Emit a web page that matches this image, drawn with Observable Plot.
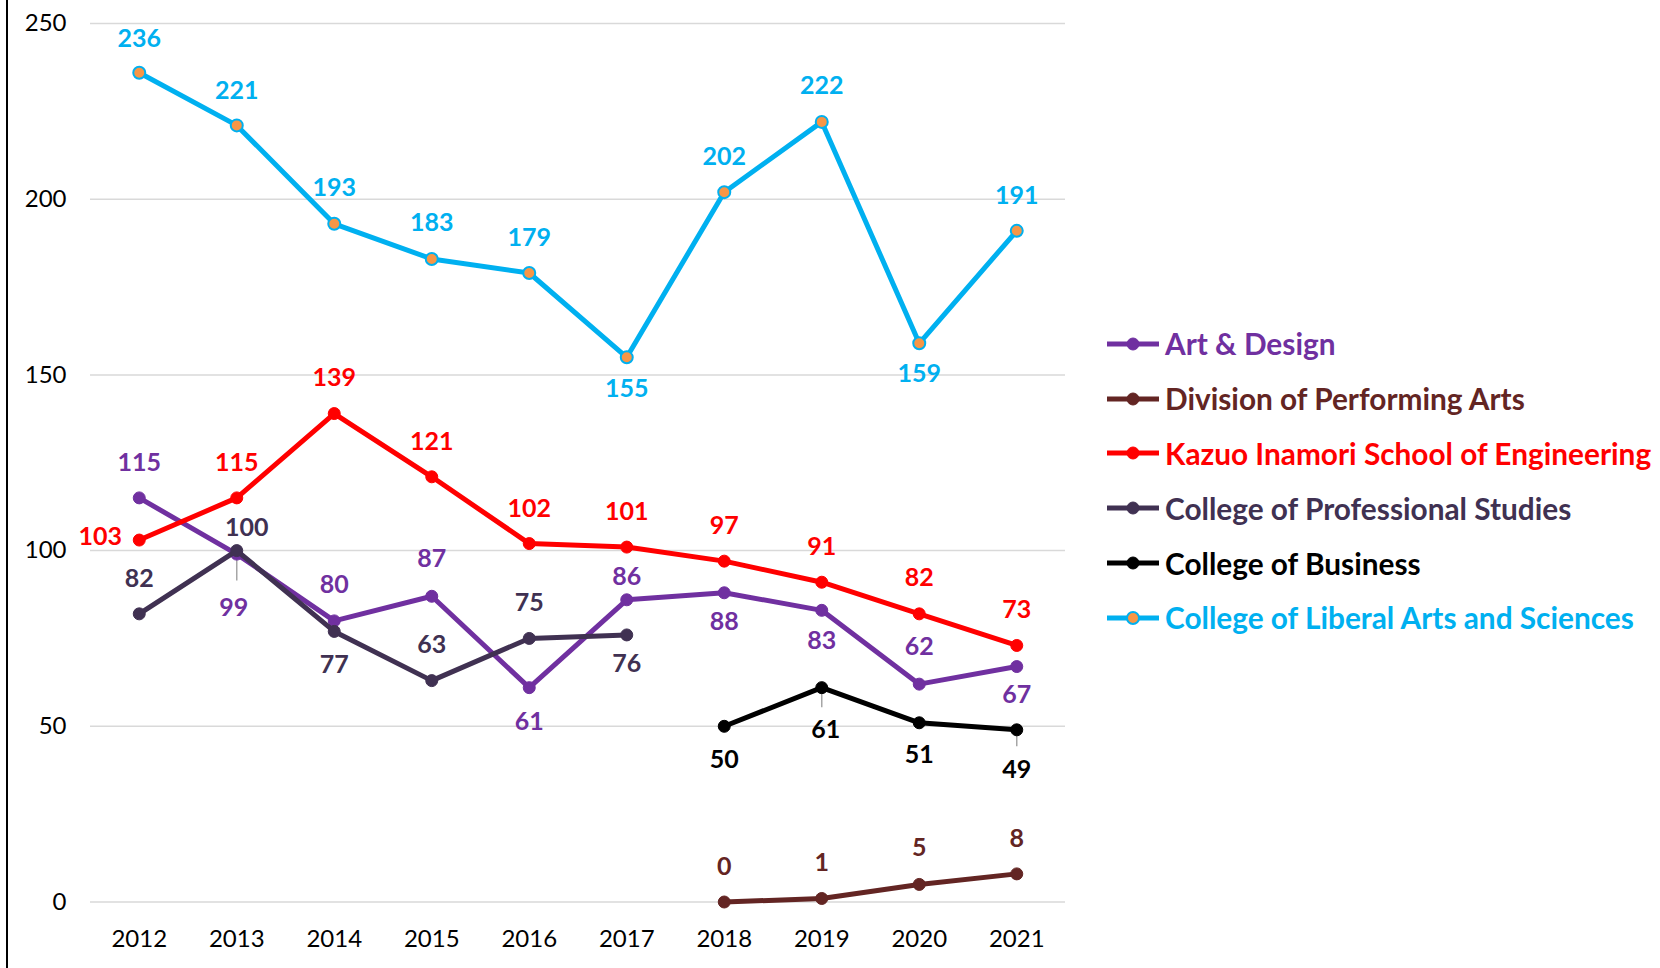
<!DOCTYPE html>
<html>
<head>
<meta charset="utf-8">
<script src="https://cdn.jsdelivr.net/npm/d3@7"></script>
<script src="https://cdn.jsdelivr.net/npm/@observablehq/plot@0.6"></script>
<style>
  html, body { margin: 0; padding: 0; background: #fff; }
  #wrap { position: relative; width: 1660px; height: 968px; overflow: hidden; font-family: Lato, "Open Sans", sans-serif; }
  #border { position: absolute; left: 6px; top: 0; width: 2px; height: 968px; background: #000; }
  #chart { position: absolute; left: 0; top: 0; }
  #legend { position: absolute; left: 1106px; top: 316.5px; }
  .item { height: 54.8px; display: flex; align-items: center; font-weight: 700; font-size: 29.8px; white-space: nowrap; }
  .item svg { margin-right: 5px; flex: none; }
</style>
</head>
<body>
<div id="wrap">
  <div id="border"></div>
  <div id="chart"></div>
  <div id="legend"></div>
</div>
<script>
// ---- data ----
const years = ["2012","2013","2014","2015","2016","2017","2018","2019","2020","2021"];
const yTicks = [0, 50, 100, 150, 200, 250];

const seriesNames = [
  "Art & Design",
  "Division of Performing Arts",
  "Kazuo Inamori School of Engineering",
  "College of Professional Studies",
  "College of Business",
  "College of Liberal Arts and Sciences"
];

const artDesignYears = years;
const artDesign = [115, 99, 80, 87, 61, 86, 88, 83, 62, 67];

const performingArtsYears = ["2018","2019","2020","2021"];
const performingArts = [0, 1, 5, 8];

const engineeringYears = years;
const engineering = [103, 115, 139, 121, 102, 101, 97, 91, 82, 73];

const professionalYears = ["2012","2013","2014","2015","2016","2017"];
const professional = [82, 100, 77, 63, 75, 76];

const businessYears = ["2018","2019","2020","2021"];
const business = [50, 61, 51, 49];

const liberalArtsYears = years;
const liberalArts = [236, 221, 193, 183, 179, 155, 202, 222, 159, 191];

// ---- styling (kept apart from values) ----
const colors = ["#7030A0", "#632523", "#FF0000", "#403152", "#000000", "#00B0F0"];
const markerFill = ["#7030A0", "#632523", "#FF0000", "#403152", "#000000", "#F79646"];

// label offsets in pixels [dx, dy]
const artLabelOff = [[0,-35],[-3,54],[0,-36],[0,-37],[0,34],[0,-23],[0,29],[0,31],[0,-37],[0,28]];
const perfLabelOff = [[0,-35],[0,-35],[0,-36],[0,-35]];
const engLabelOff = [[-39,-3],[0,-35],[0,-36],[0,-35],[0,-35],[0,-35],[0,-35],[0,-35],[0,-36],[0,-35]];
const profLabelOff = [[0,-35],[10,-23],[0,34],[0,-36],[0,-35],[0,29]];
const busLabelOff = [[0,34],[4,42],[0,32],[0,40]];
const libLabelOff = [[0,-34],[0,-34],[0,-36],[0,-36],[0,-35],[0,32],[0,-35],[0,-36],[0,31],[0,-35]];

// leader lines: [seriesIndex, pointIndex, insetTop, extendBelow]
const leaders = [[0, 1, 4, 27], [4, 1, 2, 20], [4, 3, 2, 17]];

const seriesData = [
  [artDesignYears, artDesign, artLabelOff],
  [performingArtsYears, performingArts, perfLabelOff],
  [engineeringYears, engineering, engLabelOff],
  [professionalYears, professional, profLabelOff],
  [businessYears, business, busLabelOff],
  [liberalArtsYears, liberalArts, libLabelOff]
];

const rowsFor = (yrs, vals) => yrs.map((yr, i) => ({year: yr, value: vals[i]}));

const marks = [
  Plot.gridY(yTicks, {stroke: "#d9d9d9", strokeOpacity: 1, strokeWidth: 1.5}),
  Plot.axisY(yTicks, {tickSize: 0, tickPadding: 24, label: null, fontSize: 24, fill: "#000"}),
  Plot.axisX({tickSize: 0, tickPadding: 28, label: null, fontSize: 24, fill: "#000"})
];

// leader lines
leaders.forEach(([s, p, it, ext]) => {
  const [yrs, vals] = seriesData[s];
  marks.push(Plot.ruleX([{year: yrs[p], value: vals[p]}], {
    x: "year", y1: "value", y2: "value", insetTop: it, insetBottom: -ext,
    stroke: "#a6a6a6", strokeWidth: 1.5
  }));
});

seriesData.forEach(([yrs, vals, offs], s) => {
  const rows = rowsFor(yrs, vals);
  marks.push(Plot.line(rows, {x: "year", y: "value", stroke: colors[s], strokeWidth: 5, strokeLinejoin: "round", strokeLinecap: "round"}));
  marks.push(Plot.dot(rows, {x: "year", y: "value", r: 6, fill: markerFill[s], stroke: colors[s], strokeWidth: s === 5 ? 2 : 1, fillOpacity: 1}));
});

seriesData.forEach(([yrs, vals, offs], s) => {
  const rows = rowsFor(yrs, vals);
  rows.forEach((r, i) => {
    marks.push(Plot.text([r], {
      x: "year", y: "value", text: d => String(d.value),
      dx: offs[i][0], dy: offs[i][1],
      fill: colors[s], fontWeight: 700, fontSize: 25, lineAnchor: "middle", textAnchor: "middle"
    }));
  });
});

const chart = Plot.plot({
  width: 1100,
  height: 968,
  marginLeft: 90,
  marginRight: 35,
  marginTop: 23,
  marginBottom: 66.5,
  x: {type: "point", domain: years, padding: 0.5, round: false, label: null},
  y: {domain: [0, 250], label: null},
  style: {fontFamily: "Lato, 'Open Sans', sans-serif", fontSize: "24px", color: "#000", background: "transparent", overflow: "visible"},
  marks
});
document.getElementById("chart").appendChild(chart);

// legend
const legend = document.getElementById("legend");
seriesNames.forEach((name, s) => {
  const item = document.createElement("div");
  item.className = "item";
  item.style.color = colors[s];
  const ns = "http://www.w3.org/2000/svg";
  const svg = document.createElementNS(ns, "svg");
  svg.setAttribute("width", 54);
  svg.setAttribute("height", 20);
  const ln = document.createElementNS(ns, "line");
  ln.setAttribute("x1", 1); ln.setAttribute("x2", 53); ln.setAttribute("y1", 10); ln.setAttribute("y2", 10);
  ln.setAttribute("stroke", colors[s]); ln.setAttribute("stroke-width", 5);
  const c = document.createElementNS(ns, "circle");
  c.setAttribute("cx", 27); c.setAttribute("cy", 10); c.setAttribute("r", 6);
  c.setAttribute("fill", markerFill[s]); c.setAttribute("stroke", colors[s]); c.setAttribute("stroke-width", s === 5 ? 2 : 1);
  svg.appendChild(ln); svg.appendChild(c);
  const t = document.createElement("span");
  t.textContent = name;
  item.appendChild(svg); item.appendChild(t);
  legend.appendChild(item);
});
</script>
</body>
</html>
